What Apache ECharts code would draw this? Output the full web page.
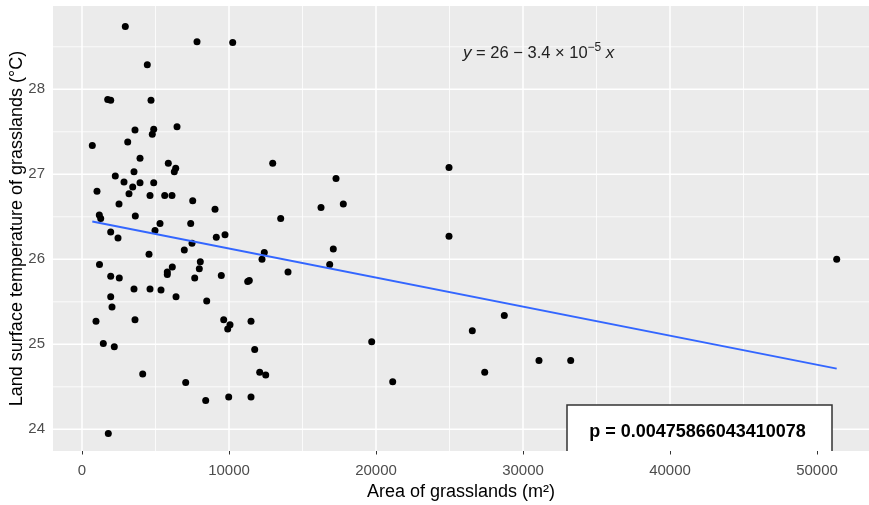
<!DOCTYPE html>
<html><head><meta charset="utf-8">
<script src="https://cdn.jsdelivr.net/npm/echarts@6/dist/echarts.min.js"></script>
<style>html,body{margin:0;padding:0;background:#fff}#c{width:869px;height:505px}</style>
</head><body><div id="c"></div>
<script>
// Scatter data: area of grasslands (m²) vs land surface temperature (°C)
const areaX = [2946,7823,10252,4442,1748,1952,4694,3605,4878,4782,6463,701,3109,3946,5871,6374,6279,3537,2265,2857,
  3946,4878,1020,3197,3449,4626,5626,6122,2517,7531,9048,12973,13517,1177,1272,3626,5306,7395,1952,2449,
  4966,9136,9728,7483,6959,4558,1190,6143,5803,5803,8048,7980,12245,12401,14014,1952,2537,7667,9476,11272,
  11381,3537,4626,5374,1952,6395,8483,2041,952,3605,9639,9912,10068,11497,1449,2197,11748,4129,7054,12088,
  12497,8415,9980,11497,1789,17095,16850,17279,16259,17776,24966,24966,19707,21136,26551,28728,27395,31088,33245,51340];
const tempY = [28.74,28.56,28.55,28.29,27.88,27.87,27.87,27.52,27.53,27.47,27.56,27.34,27.38,27.19,27.13,27.07,27.03,27.03,26.98,26.91,
  26.90,26.90,26.80,26.77,26.85,26.75,26.75,26.75,26.65,26.69,26.59,27.13,26.48,26.52,26.48,26.51,26.42,26.42,26.32,26.25,
  26.34,26.26,26.29,26.19,26.11,26.06,25.94,25.91,25.85,25.82,25.97,25.89,26.00,26.08,25.85,25.80,25.78,25.78,25.81,25.74,
  25.75,25.65,25.65,25.64,25.56,25.56,25.51,25.44,25.27,25.29,25.29,25.18,25.23,25.27,25.01,24.97,24.94,24.65,24.55,24.67,
  24.64,24.34,24.38,24.38,23.95,26.12,25.94,26.95,26.61,26.65,27.08,26.27,25.03,24.56,25.16,25.34,24.67,24.81,24.81,26.00];
// Fitted regression line (end points)
const fitX = [700, 51340];
const fitY = [26.446, 24.714];
// Axis ticks / grid
const xTicks = [0, 10000, 20000, 30000, 40000, 50000];
const xMinor = [5000, 15000, 25000, 35000, 45000];
const yTicks = [24, 25, 26, 27, 28];
const yMinor = [24.5, 25.5, 26.5, 27.5, 28.5];
const xRange = [-1973, 53537];
const yRange = [23.745, 28.98];
const xTitle = 'Area of grasslands (m²)';
const yTitle = 'Land surface temperature of grasslands (°C)';
const pText = 'p = 0.00475866043410078';

const FONT = '"Liberation Sans", Arial, sans-serif';
const chart = echarts.init(document.getElementById('c'), null, {renderer: 'canvas'});

const gridData = [];
xTicks.forEach(v => gridData.push([v, 26, 0]));
xMinor.forEach(v => gridData.push([v, 26, 1]));
yTicks.forEach(v => gridData.push([0, v, 2]));
yMinor.forEach(v => gridData.push([0, v, 3]));

function renderGrid(params, api) {
  const cs = params.coordSys;
  const kind = api.value(2);
  const p = api.coord([api.value(0), api.value(1)]);
  const major = (kind === 0 || kind === 2);
  const style = {stroke: '#FFFFFF', lineWidth: major ? 1.5 : 0.8};
  if (kind < 2) {
    return {type: 'line', shape: {x1: p[0], y1: cs.y, x2: p[0], y2: cs.y + cs.height}, style};
  }
  return {type: 'line', shape: {x1: cs.x, y1: p[1], x2: cs.x + cs.width, y2: p[1]}, style};
}

const axisCommon = {
  type: 'value',
  splitLine: {show: false},
  axisLine: {show: false},
  nameLocation: 'middle',
  nameMoveOverlap: false,
  nameTextStyle: {color: '#000000', fontSize: 18, fontFamily: FONT}
};

chart.setOption({
  animation: false,
  grid: {left: 53, right: 0, top: 6, bottom: 54, show: true, backgroundColor: '#EBEBEB', borderWidth: 0,
    containLabel: false, outerBoundsMode: 'none'},
  xAxis: Object.assign({}, axisCommon, {
    min: xRange[0], max: xRange[1],
    axisTick: {show: true, customValues: xTicks, length: 3.5, lineStyle: {color: '#333333', width: 1}},
    axisLabel: {customValues: xTicks, color: '#4D4D4D', fontSize: 15, fontFamily: FONT, margin: 12,
      formatter: v => String(v)},
    name: xTitle, nameGap: 32
  }),
  yAxis: Object.assign({}, axisCommon, {
    min: yRange[0], max: yRange[1],
    axisTick: {show: true, customValues: yTicks, length: 3.5, lineStyle: {color: '#333333', width: 1}},
    axisLabel: {customValues: yTicks, color: '#4D4D4D', fontSize: 15, fontFamily: FONT, margin: 8,
      formatter: v => String(v)},
    name: yTitle, nameGap: 27, nameRotate: 90
  }),
  series: [
    {type: 'custom', z: 1, silent: true, renderItem: renderGrid, data: gridData},
    {type: 'scatter', z: 3, symbolSize: 7, itemStyle: {color: '#000000', opacity: 1},
      data: areaX.map((x, i) => [x, tempY[i]])},
    {type: 'line', z: 4, showSymbol: false, symbol: 'none',
      lineStyle: {color: '#3366FF', width: 2},
      data: fitX.map((x, i) => [x, fitY[i]])}
  ],
  graphic: [
    {type: 'text', z: 10, x: 463, y: 53,
      style: {
        text: '{i|y} = 26 \u2212 3.4 \u00d7 10{s|\u22125} {i|x}',
        fontFamily: FONT, fontSize: 16.5, fill: '#222222', verticalAlign: 'middle', align: 'left',
        rich: {
          i: {fontStyle: 'italic', fontSize: 17, fontFamily: FONT, fill: '#222222'},
          s: {fontSize: 12, fontFamily: FONT, fill: '#222222', verticalAlign: 'top', padding: [0, 0, 10, 0]}
        }
      }},
    {type: 'rect', z: 10, shape: {x: 567, y: 405, width: 265, height: 46}, style: {fill: '#FFFFFF'}},
    {type: 'polyline', z: 11, shape: {points: [[567, 451], [567, 405], [832, 405], [832, 451]]},
      style: {stroke: '#333333', lineWidth: 1.5, fill: null}},
    {type: 'text', z: 12, x: 697.5, y: 432,
      style: {text: pText, fontFamily: FONT, fontWeight: 'bold', fontSize: 18, fill: '#000000',
        align: 'center', verticalAlign: 'middle'}}
  ]
});
</script>
</body></html>
